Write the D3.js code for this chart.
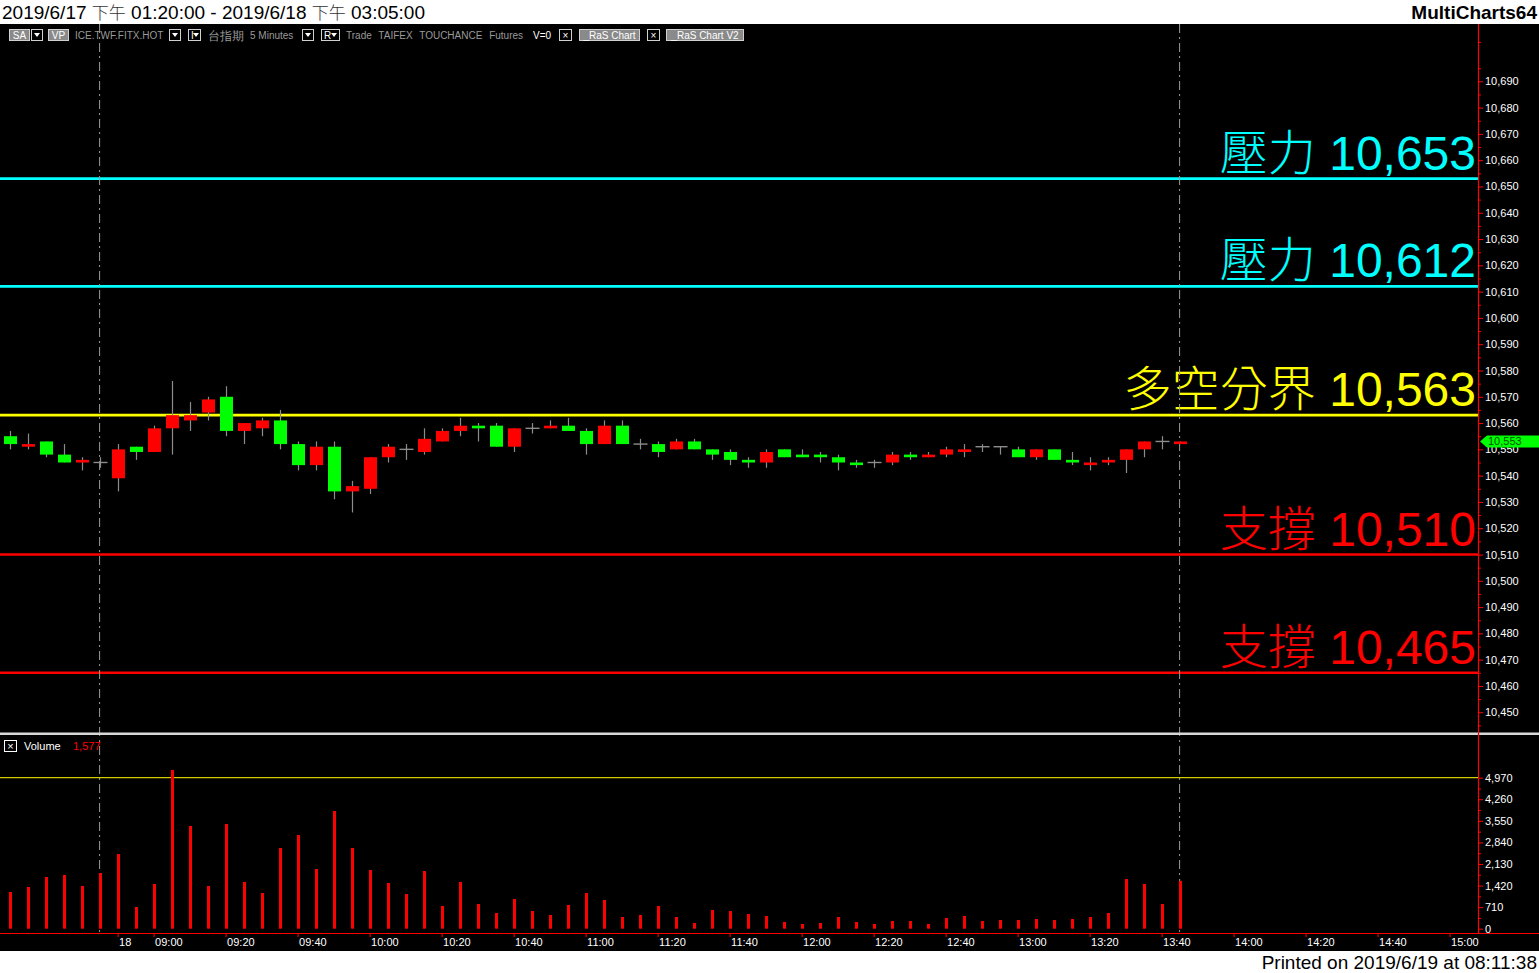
<!DOCTYPE html>
<html><head><meta charset="utf-8">
<script src="https://cdn.jsdelivr.net/npm/d3@7"></script>
<style>
html,body{margin:0;padding:0;background:#fff;overflow:hidden}
svg{display:block}
text{font-family:"Liberation Sans",Arial,sans-serif}
</style></head><body>
<svg id="c" width="1539" height="973"></svg>
<script>
// ---------------- DATA ----------------
const openP  = [10555,10551,10553,10548,10545,10545,10539,10551,10549,10558,10561,10564,10570,10557,10558,10561,10552,10544,10551,10534,10535,10547,10550,10549,10553,10557,10559,10559,10551,10558,10558,10559,10557,10552,10559,10552,10552,10550,10553,10550,10549,10546,10545,10550,10548,10548,10547,10545,10545,10545,10548,10547,10548,10549,10551,10551,10550,10547,10550,10546,10544,10545,10546,10550,10553,10552];
const highP  = [10557,10556,10553,10552,10547,10547,10552,10551,10559,10576,10568,10570,10574,10560,10562,10565,10553,10553,10553,10538,10547,10552,10552,10558,10558,10562,10560,10560,10558,10560,10561,10562,10558,10561,10561,10554,10553,10554,10554,10550,10550,10547,10550,10550,10550,10549,10548,10546,10546,10549,10549,10549,10551,10552,10552,10551,10551,10550,10550,10549,10547,10547,10550,10553,10555,10553];
const lowP   = [10550,10550,10547,10545,10542,10543,10534,10546,10549,10548,10557,10561,10555,10552,10555,10550,10542,10542,10531,10526,10533,10545,10546,10548,10553,10555,10553,10551,10549,10556,10558,10557,10548,10552,10552,10550,10547,10550,10550,10546,10544,10543,10543,10547,10547,10545,10542,10543,10543,10544,10546,10547,10547,10547,10549,10548,10547,10546,10546,10544,10542,10544,10541,10547,10550,10552];
const closeP = [10552,10552,10548,10545,10546,10545,10550,10549,10558,10563,10563,10569,10557,10560,10561,10552,10544,10551,10534,10536,10547,10551,10550,10554,10557,10559,10558,10551,10558,10558,10559,10557,10552,10559,10552,10552,10549,10553,10550,10548,10546,10545,10549,10547,10547,10547,10545,10544,10545,10548,10547,10548,10550,10550,10551,10551,10547,10550,10546,10545,10545,10546,10550,10553,10553,10553];
const volume = [1208,1373,1702,1768,1406,1834,2459,714,1472,5224,3381,1406,3447,1538,1175,2656,3084,1965,3874,2656,1932,1504,1142,1899,747,1538,813,517,978,583,451,780,1175,947,385,451,747,385,188,616,583,484,418,221,155,188,385,221,155,254,254,155,352,418,254,286,286,319,286,319,385,517,1636,1472,813,1577];

// sessions of 5-minute slots (bar end times)
const sessions = [["2019/06/17 13:20","2019/06/17 13:45"],["2019/06/18 08:50","2019/06/18 15:05"]];
const sessionEnds = ["2019/06/17 13:45","2019/06/18 13:45"];
const xTickKeys = ["2019/06/18 08:50","2019/06/18 09:00","2019/06/18 09:20","2019/06/18 09:40","2019/06/18 10:00","2019/06/18 10:20","2019/06/18 10:40","2019/06/18 11:00","2019/06/18 11:20","2019/06/18 11:40","2019/06/18 12:00","2019/06/18 12:20","2019/06/18 12:40","2019/06/18 13:00","2019/06/18 13:20","2019/06/18 13:40","2019/06/18 14:00","2019/06/18 14:20","2019/06/18 14:40","2019/06/18 15:00"];
const xTickLabels = ["18","09:00","09:20","09:40","10:00","10:20","10:40","11:00","11:20","11:40","12:00","12:20","12:40","13:00","13:20","13:40","14:00","14:20","14:40","15:00"];

const priceTicks = [10450,10460,10470,10480,10490,10500,10510,10520,10530,10540,10550,10560,10570,10580,10590,10600,10610,10620,10630,10640,10650,10660,10670,10680,10690];
const volTicks = [0,710,1420,2130,2840,3550,4260,4970];

const levels = [10653,10612,10563,10510,10465];
const levelNames = ["壓力","壓力","多空分界","支撐","支撐"];
const levelKinds = ["res","res","pivot","sup","sup"];
const lastPrice = 10553;
const lastVolume = 1577;

// ---------------- SETUP ----------------
const W = 1539, H = 973;
const svg = d3.select("#c");
const fmt = d3.format(",");
const parse = d3.timeParse("%Y/%m/%d %H:%M");
const keyFmt = d3.timeFormat("%Y/%m/%d %H:%M");
const slots = [];
sessions.forEach(([a,b]) => {
  d3.timeMinute.every(5).range(parse(a), d3.timeMinute.offset(parse(b),1)).forEach(t => slots.push(keyFmt(t)));
});
const bars = openP.map((o,i)=>({key:slots[i],o,h:highP[i],l:lowP[i],c:closeP[i],v:volume[i]}));

const axisX = 1478;
const pTop = 24, pBot = 733;
const x = d3.scalePoint().domain(slots).range([9.6, 9.6 + 18*(slots.length-1)]);
const yP = d3.scaleLinear().domain([10442.1, 10711.8]).range([pBot, pTop]);
const yV = d3.scaleLinear().domain([0, 4970]).range([928.7, 777.7]);
const levelColor = {res:"#00ffff", pivot:"#ffff00", sup:"#ff0000"};

// backgrounds
svg.append("rect").attr("x",0).attr("y",0).attr("width",W).attr("height",H).attr("fill","#fff");
svg.append("rect").attr("x",0).attr("y",24).attr("width",W).attr("height",927).attr("fill","#000");

// title
const t1 = svg.append("text").attr("x",2).attr("y",19).attr("font-size",19).attr("fill","#000");
[["2019/6/17 ",0],["下午",1],[" 01:20:00 - 2019/6/18 ",0],["下午",1],[" 03:05:00",0]].forEach(([s,c])=>{
  const ts = t1.append("tspan").text(s);
  if(c){ts.attr("font-family","'Noto Sans CJK TC'").attr("font-weight",300).attr("font-size",17).attr("fill","#333");}
});
svg.append("text").attr("x",1537).attr("y",19).attr("text-anchor","end").attr("font-size",19).attr("font-weight","bold").attr("fill","#000").text("MultiCharts64");
svg.append("text").attr("x",1537).attr("y",969).attr("text-anchor","end").attr("font-size",19).attr("fill","#000").text("Printed on 2019/6/19 at 08:11:38");

// toolbar
const tb = svg.append("g").attr("font-size",10);
function box(x0,w,label,filled){
  tb.append("rect").attr("x",x0+0.5).attr("y",29.5).attr("width",w).attr("height",11)
    .attr("fill",filled?"#8a8a8a":"#000").attr("stroke","#d0d0d0").attr("stroke-width",1);
  if(label) tb.append("text").attr("x",x0+w/2+0.5).attr("y",39).attr("text-anchor","middle").attr("fill","#fff").text(label);
}
function tri(cx){ tb.append("path").attr("d",`M${cx-3},33 L${cx+3},33 L${cx},37 Z`).attr("fill","#fff"); }
box(9,20,"SA",true); box(31,11,"",false); tri(37);
box(48,20,"VP",true);
tb.append("text").attr("x",75).attr("y",39).attr("fill","#9a9a9a").text("ICE.TWF.FITX.HOT");
box(169,11,"",false); tri(175);
box(188,12,"",false); tb.append("text").attr("x",191).attr("y",39).attr("fill","#fff").text("I"); tri(196);
tb.append("text").attr("x",208).attr("y",39.5).attr("fill","#9a9a9a").attr("font-size",11.5).attr("font-family","'Noto Sans CJK TC'").text("台指期");
tb.append("text").attr("x",250).attr("y",39).attr("fill","#9a9a9a").text("5 Minutes");
box(302,11,"",false); tri(308);
box(321,18,"",false); tb.append("text").attr("x",324).attr("y",39).attr("fill","#fff").text("R"); tri(334);
tb.append("text").attr("x",346).attr("y",39).attr("fill","#9a9a9a").attr("word-spacing","4").text("Trade  TAIFEX  TOUCHANCE  Futures");
tb.append("text").attr("x",533).attr("y",39).attr("fill","#fff").text("V=0");
box(559,12,"×",false);
box(579,60,"_RaS Chart",true);
box(647,12,"×",false);
box(666,77,"_RaS Chart V2",true);

// level lines
levels.forEach((lv,i)=>{
  const c = levelColor[levelKinds[i]];
  svg.append("line").attr("x1",0).attr("x2",axisX).attr("y1",yP(lv)).attr("y2",yP(lv)).attr("stroke",c).attr("stroke-width",2.6);
  const t = svg.append("text").attr("x",1476).attr("y",yP(lv)-9).attr("text-anchor","end").attr("fill",c).attr("font-size",48);
  t.append("tspan").attr("font-family","'Noto Sans CJK TC'").attr("font-weight",300).text(levelNames[i]);
  t.append("tspan").text(" " + fmt(lv));
});

// dashed session-end lines
sessionEnds.forEach(k=>{
  svg.append("line").attr("x1",x(k)).attr("x2",x(k)).attr("y1",24).attr("y2",933)
    .attr("stroke","#9a9a9a").attr("stroke-width",1).attr("stroke-dasharray","9,4,2,4");
});

// candles
const cg = svg.append("g");
bars.forEach(b=>{
  const cx = Math.round(x(b.key)) + 0.5;
  const g = cg.append("g");
  g.append("line").attr("x1",cx).attr("x2",cx).attr("y1",yP(b.h)).attr("y2",yP(b.l)).attr("stroke","#8c8c8c").attr("stroke-width",1.2);
  if(b.o === b.c){
    g.append("line").attr("x1",cx-7).attr("x2",cx+7).attr("y1",yP(b.o)).attr("y2",yP(b.o)).attr("stroke","#8c8c8c").attr("stroke-width",1.4);
  } else {
    const top = yP(Math.max(b.o,b.c)), bot = yP(Math.min(b.o,b.c));
    g.append("rect").attr("x",cx-6.5).attr("width",13).attr("y",top).attr("height",Math.max(2,bot-top))
      .attr("fill", b.c > b.o ? "#ff0000" : "#00ff00");
  }
});

// panel separator
svg.append("rect").attr("x",0).attr("y",732.5).attr("width",W).attr("height",2.5).attr("fill","#d8d8d8");

// price axis
svg.append("g").attr("transform",`translate(${axisX},0)`)
  .call(d3.axisRight(yP).tickValues(priceTicks).tickFormat(fmt).tickSize(5).tickPadding(2));
const minorP = d3.range(10445,10711,10);
svg.append("g").attr("transform",`translate(${axisX},0)`).call(d3.axisRight(yP).tickValues(minorP).tickFormat("").tickSize(3))
  .call(g=>g.select(".domain").remove());

// volume axis
svg.append("g").attr("transform",`translate(${axisX},0)`)
  .call(d3.axisRight(yV).tickValues(volTicks).tickFormat(fmt).tickSize(5).tickPadding(2));
const minorV = volTicks.slice(0,-1).map((v,i)=>(v+volTicks[i+1])/2);
svg.append("g").attr("transform",`translate(${axisX},0)`).call(d3.axisRight(yV).tickValues(minorV).tickFormat("").tickSize(3))
  .call(g=>g.select(".domain").remove());

// axis style
svg.selectAll(".tick line").attr("stroke","#ff0000");
svg.selectAll(".domain").remove();
svg.selectAll(".tick text").attr("fill","#ffffff").attr("font-size",11).attr("font-family","'Liberation Sans',Arial,sans-serif");
svg.append("line").attr("x1",axisX+0.5).attr("x2",axisX+0.5).attr("y1",24).attr("y2",933).attr("stroke","#ff0000").attr("stroke-width",1.2);

// last price marker
const lp = yP(lastPrice);
svg.append("path").attr("d",`M1480,${lp} L1487,${lp-6} L1539,${lp-6} L1539,${lp+6} L1487,${lp+6} Z`).attr("fill","#00ff00");
svg.append("text").attr("x",1488).attr("y",lp+4).attr("font-size",11).attr("fill","#005000").text(fmt(lastPrice));

// volume panel
svg.append("line").attr("x1",0).attr("x2",axisX).attr("y1",yV(4970)).attr("y2",yV(4970)).attr("stroke","#ffff00").attr("stroke-width",1);
svg.append("rect").attr("x",4.5).attr("y",740.5).attr("width",12).attr("height",11).attr("fill","none").attr("stroke","#fff");
svg.append("text").attr("x",10.5).attr("y",750).attr("text-anchor","middle").attr("font-size",11).attr("fill","#fff").text("×");
svg.append("text").attr("x",24).attr("y",750).attr("font-size",11).attr("fill","#fff").text("Volume");
svg.append("text").attr("x",73).attr("y",750).attr("font-size",11).attr("fill","#ff0000").text(fmt(lastVolume));
svg.append("g").selectAll("rect").data(bars).join("rect")
  .attr("x",d=>Math.round(x(d.key))-1).attr("width",3)
  .attr("y",d=>yV(d.v)).attr("height",d=>yV(0)-yV(d.v)).attr("fill","#ff0000");

// x axis
const xa = svg.append("g").attr("transform","translate(0,933)")
  .call(d3.axisBottom(x).tickValues(xTickKeys).tickFormat((d,i)=>xTickLabels[i]).tickSize(4).tickPadding(2));
xa.select(".domain").remove();
xa.selectAll(".tick line").attr("stroke","#ff0000");
xa.selectAll(".tick text").attr("fill","#fff").attr("font-size",11).attr("text-anchor","start").attr("dx",1).attr("dy","0.6em");
svg.append("line").attr("x1",0).attr("x2",W).attr("y1",933.5).attr("y2",933.5).attr("stroke","#ff0000").attr("stroke-width",1.2);
</script>
</body></html>
